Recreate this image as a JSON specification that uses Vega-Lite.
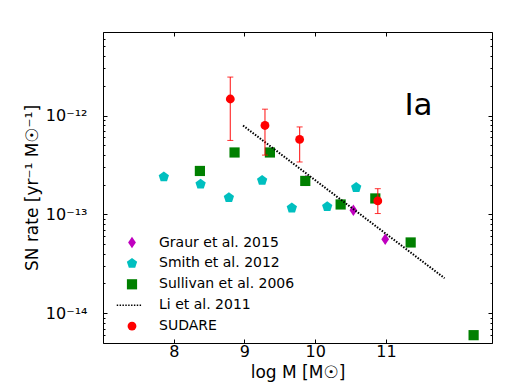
{
  "$schema": "https://vega.github.io/schema/vega-lite/v6.json",
  "width": 389,
  "height": 311,
  "autosize": {"type": "none"},
  "padding": {"left": 103, "top": 32, "right": 26, "bottom": 47},
  "config": {
    "font": "DejaVu Sans",
    "view": {"stroke": "#000000", "strokeWidth": 1},
    "axis": {"domain": false, "grid": false, "tickColor": "#000000", "tickWidth": 1, "labelColor": "#000000", "titleColor": "#000000", "labelFont": "DejaVu Sans", "titleFont": "DejaVu Sans", "titleFontWeight": "normal"},
    "legend": {"labelFont": "DejaVu Sans", "labelColor": "#000000"}
  },
  "datasets": {
    "pts": [
      {"series": "Graur et al. 2015", "logM": 9.87, "rate": 2.2e-13},
      {"series": "Graur et al. 2015", "logM": 10.54, "rate": 1.10e-13},
      {"series": "Graur et al. 2015", "logM": 10.99, "rate": 5.6e-14},
      {"series": "Smith et al. 2012", "logM": 7.86, "rate": 2.39e-13},
      {"series": "Smith et al. 2012", "logM": 8.38, "rate": 2.02e-13},
      {"series": "Smith et al. 2012", "logM": 8.78, "rate": 1.48e-13},
      {"series": "Smith et al. 2012", "logM": 9.25, "rate": 2.21e-13},
      {"series": "Smith et al. 2012", "logM": 9.67, "rate": 1.16e-13},
      {"series": "Smith et al. 2012", "logM": 10.17, "rate": 1.20e-13},
      {"series": "Smith et al. 2012", "logM": 10.58, "rate": 1.87e-13},
      {"series": "Sullivan et al. 2006", "logM": 8.37, "rate": 2.75e-13},
      {"series": "Sullivan et al. 2006", "logM": 8.86, "rate": 4.23e-13},
      {"series": "Sullivan et al. 2006", "logM": 9.36, "rate": 4.23e-13},
      {"series": "Sullivan et al. 2006", "logM": 9.86, "rate": 2.18e-13},
      {"series": "Sullivan et al. 2006", "logM": 10.36, "rate": 1.26e-13},
      {"series": "Sullivan et al. 2006", "logM": 10.85, "rate": 1.45e-13},
      {"series": "Sullivan et al. 2006", "logM": 11.35, "rate": 5.2e-14},
      {"series": "Sullivan et al. 2006", "logM": 12.24, "rate": 6.0e-15},
      {"series": "SUDARE", "logM": 8.80, "rate": 1.47e-12, "lo": 5.6e-13, "hi": 2.45e-12},
      {"series": "SUDARE", "logM": 9.29, "rate": 7.93e-13, "lo": 3.98e-13, "hi": 1.16e-12},
      {"series": "SUDARE", "logM": 9.78, "rate": 5.73e-13, "lo": 3.39e-13, "hi": 7.67e-13},
      {"series": "SUDARE", "logM": 10.885, "rate": 1.37e-13, "lo": 1.02e-13, "hi": 1.82e-13}
    ],
    "li": [
      {"logM": 8.98, "rate": 7.92e-13},
      {"logM": 11.83, "rate": 2.26e-14}
    ],
    "lbl": [
      {"logM": 11.46, "rate": 1.24e-12, "text": "Ia"}
    ]
  },
  "resolve": {"axis": {"x": "independent", "y": "independent"}},
  "layer": [
    {
      "data": {"name": "pts"},
      "transform": [{"filter": "datum.series !== 'SUDARE'"}],
      "mark": {"type": "point", "filled": true, "opacity": 1},
      "encoding": {
        "x": {"field": "logM", "type": "quantitative",
          "scale": {"domain": [7, 12.5], "nice": false, "zero": false},
          "axis": {"orient": "bottom", "values": [8, 9, 10, 11], "tickSize": -4, "labelPadding": 4, "labelFontSize": 16, "title": "log M [M☉]", "titleFontSize": 17, "titlePadding": 5}},
        "y": {"field": "rate", "type": "quantitative",
          "scale": {"type": "log", "domain": [5e-15, 7e-12], "nice": false},
          "axis": {"orient": "left",
            "values": [5e-15, 6e-15, 7e-15, 8e-15, 9e-15, 1e-14, 2e-14, 3e-14, 4e-14, 5e-14, 6e-14, 7e-14, 8e-14, 9e-14, 1e-13, 2e-13, 3e-13, 4e-13, 5e-13, 6e-13, 7e-13, 8e-13, 9e-13, 1e-12, 2e-12, 3e-12, 4e-12, 5e-12, 6e-12, 7e-12],
            "tickSize": {"condition": {"test": "abs(log(datum.value)/LN10 - round(log(datum.value)/LN10)) < 0.01", "value": -4}, "value": -2},
            "labelExpr": "abs(log(datum.value)/LN10 - round(log(datum.value)/LN10)) < 0.01 ? (round(log(datum.value)/LN10) == -12 ? '10⁻¹²' : (round(log(datum.value)/LN10) == -13 ? '10⁻¹³' : '10⁻¹⁴')) : ''",
            "labelPadding": 20, "labelFontSize": 16, "title": "SN rate [yr⁻¹ M☉⁻¹]", "titleFontSize": 17, "titlePadding": 4}},
        "color": {"field": "series", "type": "nominal",
          "scale": {"domain": ["Graur et al. 2015", "Smith et al. 2012", "Sullivan et al. 2006", "Li et al. 2011", "SUDARE"], "range": ["#bf00bf", "#00bfbf", "#008000", "#000000", "#ff0000"]},
          "legend": {"title": null, "orient": "none", "legendX": 22, "legendY": 203.5, "padding": 0, "labelFontSize": 14, "labelOffset": 20, "rowPadding": 6.9, "symbolOpacity": 1}},
        "shape": {"field": "series", "type": "nominal",
          "scale": {"domain": ["Graur et al. 2015", "Smith et al. 2012", "Sullivan et al. 2006", "Li et al. 2011", "SUDARE"], "range": ["M0,-1L0.68,0L0,1L-0.68,0Z", "M0,-1L0.951,-0.309L0.588,0.809L-0.588,0.809L-0.951,-0.309Z", "square", "M-3.2,-0.15h0.3v0.3h-0.3z M-2.6,-0.15h0.3v0.3h-0.3z M-2.0,-0.15h0.3v0.3h-0.3z M-1.4,-0.15h0.3v0.3h-0.3z M-0.8,-0.15h0.3v0.3h-0.3z M-0.2,-0.15h0.3v0.3h-0.3z M0.4,-0.15h0.3v0.3h-0.3z M1.0,-0.15h0.3v0.3h-0.3z M1.6,-0.15h0.3v0.3h-0.3z", "circle"]}},
        "size": {"field": "series", "type": "nominal",
          "scale": {"domain": ["Graur et al. 2015", "Smith et al. 2012", "Sullivan et al. 2006", "Li et al. 2011", "SUDARE"], "range": [130, 78, 70, 100, 95]}}
      }
    },
    {
      "data": {"name": "li"},
      "mark": {"type": "line", "color": "#000000", "strokeWidth": 2, "strokeDash": [1.5, 1.5]},
      "encoding": {
        "x": {"field": "logM", "type": "quantitative",
          "axis": {"orient": "top", "values": [8, 9, 10, 11], "tickSize": -4, "labels": false, "title": null}},
        "y": {"field": "rate", "type": "quantitative",
          "axis": {"orient": "right",
            "values": [5e-15, 6e-15, 7e-15, 8e-15, 9e-15, 1e-14, 2e-14, 3e-14, 4e-14, 5e-14, 6e-14, 7e-14, 8e-14, 9e-14, 1e-13, 2e-13, 3e-13, 4e-13, 5e-13, 6e-13, 7e-13, 8e-13, 9e-13, 1e-12, 2e-12, 3e-12, 4e-12, 5e-12, 6e-12, 7e-12],
            "tickSize": {"condition": {"test": "abs(log(datum.value)/LN10 - round(log(datum.value)/LN10)) < 0.01", "value": -4}, "value": -2},
            "labels": false, "title": null}}
      }
    },
    {
      "data": {"name": "pts"},
      "transform": [{"filter": "datum.series === 'SUDARE'"}],
      "mark": {"type": "errorbar", "color": "#ff0000", "opacity": 0.8, "ticks": {"size": 6, "thickness": 1}, "rule": {"strokeWidth": 1.2}},
      "encoding": {
        "x": {"field": "logM", "type": "quantitative", "axis": null},
        "y": {"field": "lo", "type": "quantitative", "axis": null},
        "y2": {"field": "hi"}
      }
    },
    {
      "data": {"name": "pts"},
      "transform": [{"filter": "datum.series === 'SUDARE'"}],
      "mark": {"type": "point", "filled": true, "opacity": 1},
      "encoding": {
        "x": {"field": "logM", "type": "quantitative", "axis": null},
        "y": {"field": "rate", "type": "quantitative", "axis": null},
        "color": {"field": "series", "type": "nominal"},
        "shape": {"field": "series", "type": "nominal"},
        "size": {"field": "series", "type": "nominal"}
      }
    },
    {
      "data": {"name": "lbl"},
      "mark": {"type": "text", "fontSize": 31, "align": "center", "baseline": "middle", "color": "#000000"},
      "encoding": {
        "x": {"field": "logM", "type": "quantitative", "axis": null},
        "y": {"field": "rate", "type": "quantitative", "axis": null},
        "text": {"field": "text"}
      }
    }
  ]
}
